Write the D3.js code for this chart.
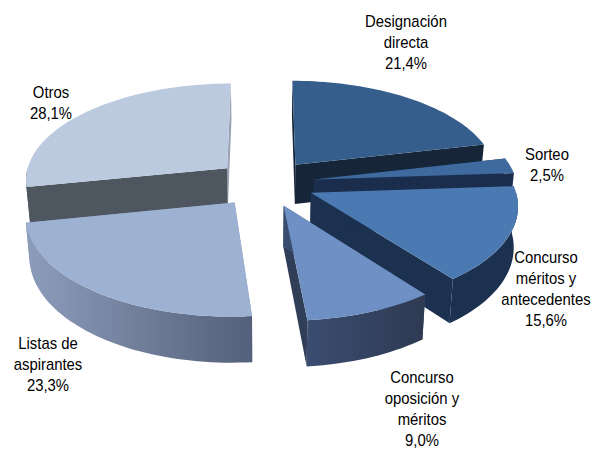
<!DOCTYPE html>
<html>
<head>
<meta charset="utf-8">
<script src="https://cdn.jsdelivr.net/npm/d3@7"></script>
<style>
html, body { margin: 0; padding: 0; background: #fff; }
svg { display: block; }
text { font-family: "Liberation Sans", Arial, sans-serif; font-size: 16px; fill: #000; }
</style>
</head>
<body>
<script>
let categories = ["Designación directa", "Sorteo", "Concurso méritos y antecedentes", "Concurso oposición y méritos", "Listas de aspirantes", "Otros"]
let values = [21.4, 2.5, 15.6, 9.0, 23.3, 28.1]
let valueLabels = ["21,4%", "2,5%", "15,6%", "9,0%", "23,3%", "28,1%"]

// how each label wraps, one entry per category
let labelLines = [
    ["Designación", "directa"],
    ["Sorteo"],
    ["Concurso", "méritos y", "antecedentes"],
    ["Concurso", "oposición y", "méritos"],
    ["Listas de", "aspirantes"],
    ["Otros"]
]

let topColors = ["#365e8c", "#3f6a9f", "#4a7ab1", "#6f90c4", "#9db1d2", "#bccadf"]
let wallColors = ["#162538", "#1a2d4c", "#1c3150", "#3a4c70", "#8c9dbb", "#4e5660"]
let wallEndColors = ["#162538", "#1a2d4c", "#1c3150", "#2e3a52", "#55607a", "#4e5660"] // right end of the outer wall
let sideColors = ["#162538", "#1a2d4c", "#1c3150", "#313e58", "#8c9dbb", "#98a2b3"] // second radial wall

let labelX = [406, 547, 546, 422, 48, 51]
let labelY = [27, 160, 263, 383, 349, 98] // first baseline
let lineHeight = 21
let textSqueeze = 0.93 // the labels are a narrow face

let width = 592
let height = 450

let cx = 265
let cy = 183
let radiusX = 203
let radiusY = 97
let perspective = 0.11 // front of the pie is nearer than the back
let depth = 40 // wall height
let wallLean = 0.983 // walls narrow slightly towards the bottom
let explode = 0.245

let xScale = d3.scaleLinear().domain([-1, 1]).range([cx - radiusX, cx + radiusX])
let yScale = d3.scaleLinear().domain([-1, 1]).range([cy - radiusY, cy + radiusY])

// gx to the right, gy to the viewer, in pie radii
function project(gx, gy, down){
    let s = 1 / (1 - perspective * gy)
    if(!down) return [xScale(gx * s), yScale(gy * s)]
    return [xScale(gx * s * wallLean), yScale(gy * s) + depth * s]
}

function ground(angle, r, mid){
    return [
        r * Math.sin(angle) + explode * Math.sin(mid),
        -r * Math.cos(angle) - explode * Math.cos(mid)
    ]
}

function arcPoints(a0, a1, mid, down){
    let steps = Math.max(2, Math.ceil((a1 - a0) / 0.03))
    return d3.range(steps + 1).map(i => {
        let g = ground(a0 + (a1 - a0) * i / steps, 1, mid)
        return project(g[0], g[1], down)
    })
}

let line = d3.line()

function radialWall(angle, mid){
    let apex = ground(0, 0, mid)
    let rim = ground(angle, 1, mid)
    return [
        project(apex[0], apex[1], false),
        project(rim[0], rim[1], false),
        project(rim[0], rim[1], true),
        project(apex[0], apex[1], true)
    ]
}

let canvas = d3.select("body").append("svg")
    .attr("width", width)
    .attr("height", height)

let defs = canvas.append("defs")

let slices = d3.pie().sort(null).startAngle(0).endAngle(2 * Math.PI)(values)
    .map((d, i) => ({
        index: i,
        a0: d.startAngle,
        a1: d.endAngle,
        mid: (d.startAngle + d.endAngle) / 2
    }))

// back slices first so nearer ones cover them
let paintOrder = slices.slice().sort((a, b) => Math.cos(b.mid) - Math.cos(a.mid))

let pie = canvas.append("g")

paintOrder.forEach(d => {
    let g = pie.append("g").attr("class", "slice")
    g.append("title").text(categories[d.index])

    g.append("path").attr("d", line(radialWall(d.a1, d.mid)) + "Z").attr("fill", sideColors[d.index])
    g.append("path").attr("d", line(radialWall(d.a0, d.mid)) + "Z").attr("fill", wallColors[d.index])

    // outer wall, only the part that faces the viewer
    let from = Math.max(d.a0, Math.PI / 2)
    let to = Math.min(d.a1, 3 * Math.PI / 2)
    if(to > from){
        let upper = arcPoints(from, to, d.mid, false)
        let lower = arcPoints(from, to, d.mid, true).reverse()
        let xs = d3.extent(upper.map(p => p[0]))
        let gradId = "wall" + d.index
        let grad = defs.append("linearGradient").attr("id", gradId)
            .attr("gradientUnits", "userSpaceOnUse")
            .attr("x1", xs[0]).attr("x2", xs[1]).attr("y1", 0).attr("y2", 0)
        grad.append("stop").attr("offset", 0).attr("stop-color", wallColors[d.index])
        grad.append("stop").attr("offset", 1).attr("stop-color", wallEndColors[d.index])
        g.append("path").attr("d", line(upper.concat(lower)) + "Z").attr("fill", "url(#" + gradId + ")")
    }

    // top face
    let apex = ground(0, 0, d.mid)
    let top = [project(apex[0], apex[1], false)].concat(arcPoints(d.a0, d.a1, d.mid, false))
    g.append("path").attr("d", line(top) + "Z").attr("fill", topColors[d.index])
})

// labels
slices.forEach(d => {
    let rows = labelLines[d.index].concat([valueLabels[d.index]])
    let t = canvas.append("text")
        .attr("text-anchor", "middle")
        .attr("transform", "translate(" + labelX[d.index] + ",0) scale(" + textSqueeze + ",1)")
    rows.forEach((row, j) => {
        t.append("tspan")
            .attr("x", 0)
            .attr("y", labelY[d.index] + j * lineHeight)
            .text(row)
    })
})
</script>
</body>
</html>
